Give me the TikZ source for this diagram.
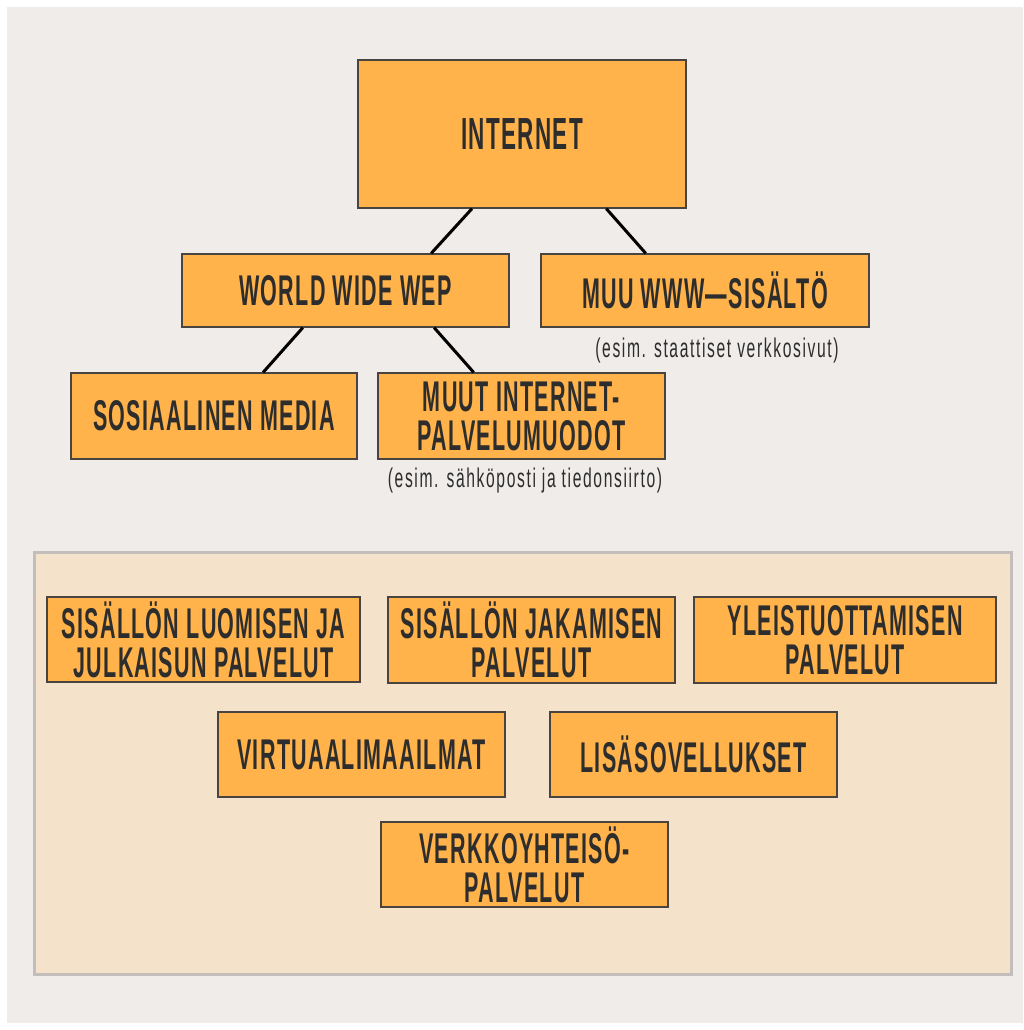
\documentclass[tikz,border=0pt]{standalone}
\usepackage{fontspec}
\newfontfamily\condb{Liberation Sans}[FakeStretch=0.5,LetterSpace=3]
\newfontfamily\condn{Liberation Sans}[FakeStretch=0.58,LetterSpace=6]
\usetikzlibrary{calc}
\definecolor{bgc}{HTML}{EFECEA}
\definecolor{orng}{HTML}{FFB34A}
\definecolor{panelc}{HTML}{F4E2CA}
\definecolor{panelb}{HTML}{C3BEBC}
\definecolor{txtc}{HTML}{2D2D2D}
\definecolor{boxb}{HTML}{4A4440}
\begin{document}
\begin{tikzpicture}[x=1pt,y=-1pt,
  box/.style={draw=boxb, line width=1.3pt, fill=orng, text=txtc, align=center,
    inner sep=0pt, font=\condb\bfseries\fontsize{43}{39}\selectfont},
  note/.style={text=txtc, inner sep=0pt, font=\condn\fontsize{27}{30}\selectfont},
  conn/.style={line width=3pt, black}]
\useasboundingbox (0,0) rectangle (1023,1030);
\fill[white] (0,0) rectangle (1023,1030);
\fill[bgc] (7,7) rectangle (1023,1023);
% panel
\node[draw=panelb, line width=3pt, fill=panelc, minimum width=977pt, minimum height=422pt, inner sep=0pt] (panel) at (522.5,763) {};
% top
\node[box, minimum width=328pt, minimum height=148pt, font=\condb\bfseries\fontsize{45}{40}\selectfont] (inet) at (522,134) {INTERNET};
\node[box, minimum width=327pt, minimum height=73pt] (www) at (345.5,290.5) {WORLD WIDE WEP};
\node[box, minimum width=328pt, minimum height=73pt] (muu) at (705,290.5) {MUU WWW—SISÄLTÖ};
\node[note] (muunote) at (717,351) {(esim. staattiset verkkosivut)};
\node[box, minimum width=286pt, minimum height=86pt] (some) at (214,416) {SOSIAALINEN MEDIA};
\node[box, minimum width=287pt, minimum height=86pt] (muut) at (521.5,416) {MUUT INTERNET-\\PALVELUMUODOT};
\node[note] (muutnote) at (525,481) {(esim. sähköposti ja tiedonsiirto)};
% panel boxes
\node[box, minimum width=313pt, minimum height=85pt] (b1) at (203.5,639.5) {SISÄLLÖN LUOMISEN JA\\JULKAISUN PALVELUT};
\node[box, minimum width=287pt, minimum height=86pt] (b2) at (531.5,640) {SISÄLLÖN JAKAMISEN\\PALVELUT};
\node[box, minimum width=302pt, minimum height=86pt] (b3) at (845,640) {YLEISTUOTTAMISEN\\PALVELUT};
\node[box, minimum width=287pt, minimum height=85pt] (b4) at (361.5,754.5) {VIRTUAALIMAAILMAT};
\node[box, minimum width=287pt, minimum height=85pt] (b5) at (693.5,754.5) {LISÄSOVELLUKSET};
\node[box, minimum width=287pt, minimum height=85pt] (b6) at (524.5,864.5) {VERKKOYHTEISÖ-\\PALVELUT};
% connectors
\draw[conn] ($(inet.south west)!0.348!(inet.south east)$) -- ($(www.north west)!0.761!(www.north east)$);
\draw[conn] ($(inet.south west)!0.756!(inet.south east)$) -- ($(muu.north west)!0.32!(muu.north east)$);
\draw[conn] ($(www.south west)!0.37!(www.south east)$) -- ($(some.north west)!0.671!(some.north east)$);
\draw[conn] ($(www.south west)!0.77!(www.south east)$) -- ($(muut.north west)!0.334!(muut.north east)$);
\draw[conn] ($(some.south west)!0.538!(some.south east)$) -- ($(some.south west)!0.538!(some.south east)$ |- panel.north);
\end{tikzpicture}
\end{document}
